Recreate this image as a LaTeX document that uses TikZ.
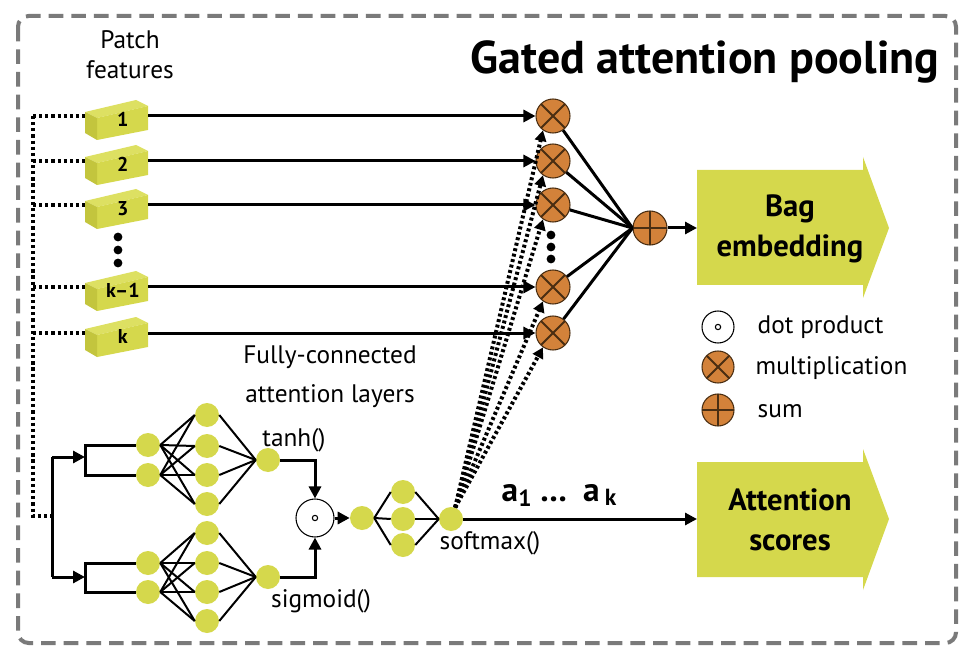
\documentclass[tikz,border=0pt]{standalone}
\usepackage{fontspec}
\setmainfont{PT Sans}
\usepackage{tikz}
\usetikzlibrary{arrows.meta}

\definecolor{leaf}{HTML}{D5D84C}
\definecolor{leaftop}{HTML}{DDE062}
\definecolor{leafside}{HTML}{C3C53D}
\definecolor{rust}{HTML}{D3823A}
\definecolor{rustline}{HTML}{4A2E12}
\definecolor{framegray}{HTML}{7A7A7A}

\tikzset{
  txt/.style={font=\fontsize{19pt}{23pt}\selectfont},
  unit/.style={circle, fill=leaf, inner sep=0pt, minimum size=18pt},
  opnode/.style={circle, draw=rustline, fill=rust, line width=0.8pt, inner sep=0pt, minimum size=25.5pt},
  mult/.style={opnode, path picture={
    \draw[line width=1.4pt] (path picture bounding box.north west) -- (path picture bounding box.south east)
      (path picture bounding box.north east) -- (path picture bounding box.south west);}},
  plus/.style={opnode, path picture={
    \draw[line width=1.4pt] (path picture bounding box.north) -- (path picture bounding box.south)
      (path picture bounding box.west) -- (path picture bounding box.east);}},
  dotp/.style={circle, draw, fill=white, line width=0.8pt, inner sep=0pt, minimum size=#1,
    path picture={\draw[line width=0.8pt] (path picture bounding box.center) circle (2pt);}},
  block/.style={inner sep=0pt, minimum width=47pt, minimum height=20pt},
  wire/.style={line width=2.25pt},
  net/.style={line width=1.5pt},
  tip/.style={-{Triangle[length=9pt,width=9pt]}},
  dots/.style={line width=2.4pt, dash pattern=on 2.4pt off 2.2pt},
  softdots/.style={line width=3pt, dash pattern=on 2.2pt off 2pt, -{Triangle[length=8pt,width=8.5pt]}},
  bigtext/.style={font=\fontsize{23pt}{30pt}\selectfont\bfseries, align=center},
}

\begin{document}
\begin{tikzpicture}[x=0.75pt, y=-0.75pt]
  \useasboundingbox (0,0) rectangle (959,648);

  % Frame and headings
  \draw[framegray, line width=3pt, dash pattern=on 11pt off 6pt, rounded corners=8pt] (18,16) rectangle (956,643);
  \node[font=\fontsize{34.5pt}{38pt}\selectfont\bfseries, anchor=base east] (title) at (944,74) {Gated attention pooling};
  \node[txt, align=center, font=\fontsize{19pt}{22.5pt}\selectfont] (patch) at (130,55) {Patch\\features};

  % Patch blocks and multiplications
  \foreach \y/\t/\i in {116/1/1, 161/2/2, 205/3/3, 287/k–1/4, 333/k/5} {
    \fill[leaftop] (85,\y-4) -- (136,\y-16) -- (148,\y-10) -- (97,\y+2) -- cycle;
    \fill[leaf] (97,\y+2) -- (148,\y-10) -- (148,\y+14) -- (97,\y+24) -- cycle;
    \fill[leafside] (85,\y-4) -- (97,\y+2) -- (97,\y+24) -- (85,\y+17) -- cycle;
    \node[block, label={[font=\fontsize{15pt}{17pt}\selectfont\bfseries, xshift=4.8pt, yshift=-2.4pt]center:\t}] (p\i) at (116.5,\y) {};
    \node[mult] (m\i) at (553,\y) {};
  }
  \foreach \y in {237,250,263} {\fill (118,\y) circle (3.3pt);}
  \foreach \y in {235,247,259} {\fill (551,\y) circle (3.3pt);}

  % Sum and outputs
  \node[plus] (sum) at (650,228) {};
  \fill[leaf] (697,170) -- (863,170) -- (863,157) -- (889,228) -- (863,298) -- (863,285) -- (697,285) -- cycle;
  \fill[leaf] (697,462) -- (863,462) -- (863,449) -- (889,519) -- (863,590) -- (863,577) -- (697,577) -- cycle;
  \node[bigtext] (bag) at (790,229) {Bag\\embedding};
  \node[bigtext] (scores) at (790,520) {Attention\\scores};
  \coordinate (bagin) at (697,228);
  \coordinate (scorein) at (697,519);

  % Legend
  \node[dotp=24pt] (lg1) at (718,327) {};
  \node[mult, minimum size=24pt] (lg2) at (718,367) {};
  \node[plus, minimum size=24pt] (lg3) at (718,410) {};
  \node[txt, anchor=base west] (lt1) at (753,334) {dot product};
  \node[txt, anchor=base west] (lt2) at (751,374) {multiplication};
  \node[txt, anchor=base west] (lt3) at (753,417) {sum};

  % Attention network
  \node[txt, align=center, font=\fontsize{19pt}{29pt}\selectfont] (fc) at (330,377) {Fully-connected\\attention layers};
  \node[unit] (ia1) at (148,445) {};
  \node[unit] (ia2) at (148,475) {};
  \node[unit] (ib1) at (148,563) {};
  \node[unit] (ib2) at (148,592) {};
  \foreach \y [count=\j] in {415,446,475,504} {\node[unit] (ha\j) at (207,\y) {};}
  \foreach \y [count=\j] in {533,563,592,621} {\node[unit] (hb\j) at (207,\y) {};}
  \node[unit] (ta) at (268,460) {};
  \node[unit] (sg) at (268,577) {};
  \node[txt] (tanhlbl) at (294,440) {tanh()};
  \node[txt] (sglbl) at (321,601) {sigmoid()};
  \node[dotp=28.5pt] (dot) at (315,518) {};
  \node[unit] (sm) at (362,518) {};
  \foreach \y [count=\j] in {492,519,545} {\node[unit] (sh\j) at (403,\y) {};}
  \node[unit] (soft) at (451,519) {};
  \node[txt] (softlbl) at (490,543) {softmax()};
  \node[font=\fontsize{25pt}{28pt}\selectfont\bfseries, anchor=base west] (alpha) at (497,501)
    {a\textsubscript{1}\hspace{6pt}…\hspace{12pt}a\hspace{4pt}\textsubscript{k}};
  \coordinate (rail) at (33,516);
  \coordinate (fork) at (52,516);
  \coordinate (forkA) at (52,457);
  \coordinate (forkB) at (52,577);
  \coordinate (barA) at (85,457);
  \coordinate (barB) at (85,577);

  % Edges
  \draw[dots] (rail |- p1) -- (rail) -- (fork);
  \foreach \i in {1,...,5} {
    \draw[dots] (rail |- p\i) -- (p\i.west);
    \draw[wire, tip] (p\i.east) -- (m\i);
    \draw[wire] (m\i) -- (sum.west);
    \draw[softdots] (soft.70) -- (m\i.235);
  }
  \draw[wire, tip] (sum) -- (bagin);
  \draw[wire] (forkA) -- (forkB);
  \draw[wire, tip] (forkA) -- (barA);
  \draw[wire, tip] (forkB) -- (barB);
  \draw[wire] (ia1) -| (85,460) |- (ia2);
  \draw[wire] (ib1) -| (85,577) |- (ib2);
  \foreach \i in {1,2} {
    \foreach \j in {1,...,4} {
      \draw[net] (ia\i.east) -- (ha\j.west);
      \draw[net] (ib\i.east) -- (hb\j.west);
    }
  }
  \foreach \j in {1,...,4} {
    \draw[net] (ha\j.east) -- (ta.west);
    \draw[net] (hb\j.east) -- (sg.west);
  }
  \draw[wire, tip] (ta) -| (dot);
  \draw[wire, tip] (sg) -| (dot);
  \draw[wire, tip] (dot) -- (sm);
  \foreach \j in {1,2,3} {
    \draw[net] (sm.east) -- (sh\j.west);
    \draw[net] (sh\j.east) -- (soft.west);
  }
  \draw[wire, tip] (soft) -- (scorein);
\end{tikzpicture}
\end{document}
